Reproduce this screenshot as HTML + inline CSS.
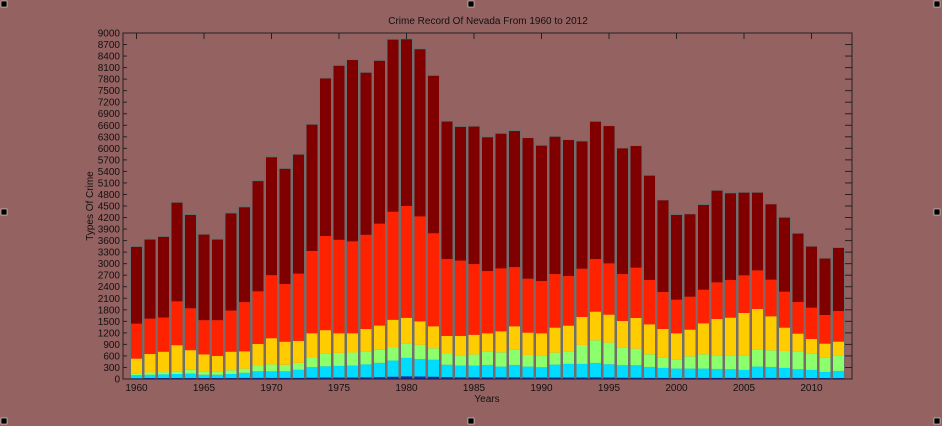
<!DOCTYPE html>
<html><head><meta charset="utf-8"><style>
html,body{margin:0;padding:0;background:#956262;}
svg{display:block;font-family:"Liberation Sans",sans-serif;}
</style></head><body>
<svg id="c" width="942" height="426" viewBox="0 0 942 426">
<rect x="0" y="0" width="942" height="426" fill="#956262"/>
<text x="488" y="24" font-size="10" text-anchor="middle" fill="#111">Crime Record Of Nevada From 1960 to 2012</text>
<text x="487" y="402" font-size="10" text-anchor="middle" fill="#111">Years</text>
<text transform="translate(93,206) rotate(-90)" font-size="10" text-anchor="middle" fill="#111">Types Of Crime</text>
<g id="bars"></g>
<g id="axes"></g>
</svg>
<script>
const years = [];for(let y=1960;y<=2012;y++)years.push(y);
const blueTop = [20,25,25,25,25,25,25,25,30,30,30,30,30,35,40,40,40,45,50,60,70,65,60,50,45,45,45,45,45,40,40,40,40,40,45,40,35,35,30,30,30,30,30,30,30,30,30,30,30,30,25,25,25];
const cyanTop = [100,110,120,130,140,110,110,130,160,200,200,200,240,310,330,340,350,380,420,480,550,520,500,370,350,350,366,323,366,323,305,375,392,392,418,383,357,357,314,288,271,271,271,262,253,236,323,314,288,253,236,184,210];
const greenTop = [140,170,180,200,240,200,200,230,270,350,380,370,420,560,670,680,690,720,760,820,920,890,800,650,620,640,712,695,764,626,600,686,704,886,1007,947,816,790,643,565,513,591,643,600,600,600,756,747,730,704,660,565,608];
const yellowTop = [530,650,710,880,750,640,600,710,720,910,1060,970,990,1190,1270,1190,1190,1300,1390,1540,1590,1500,1370,1120,1120,1150,1189,1241,1371,1206,1189,1336,1388,1613,1752,1674,1509,1587,1422,1301,1189,1284,1449,1561,1596,1717,1821,1631,1336,1180,1042,920,972];
const redTop = [1440,1570,1600,2020,1840,1530,1530,1780,2000,2280,2700,2470,2740,3330,3720,3620,3580,3750,4040,4350,4500,4230,3790,3120,3080,2990,2808,2877,2912,2609,2548,2730,2678,2869,3120,3007,2730,2895,2574,2262,2063,2141,2323,2514,2574,2695,2825,2583,2271,2002,1855,1665,1769];
const totalTop = [3450,3640,3710,4600,4280,3770,3640,4320,4480,5160,5780,5480,5850,6630,7830,8160,8310,7980,8290,8840,8850,8590,7900,6710,6570,6580,6300,6393,6463,6280,6082,6315,6229,6194,6705,6592,6012,6073,5302,4661,4280,4298,4540,4912,4843,4860,4860,4557,4211,3795,3458,3146,3423];
const yTicks = [];for(let v=0;v<=9000;v+=300)yTicks.push(v);
const xTicks = [1960,1965,1970,1975,1980,1985,1990,1995,2000,2005,2010];

const L=123,R=852,T=33,B=379,XMIN=1959,XMAX=2013,YMAX=9000;
const xs=v=>L+(v-XMIN)/(XMAX-XMIN)*(R-L);
const ys=v=>B-v/YMAX*(B-T);
const NS='http://www.w3.org/2000/svg';
function mk(tag,attrs,parent){const e=document.createElementNS(NS,tag);for(const k in attrs)e.setAttribute(k,attrs[k]);parent.appendChild(e);return e;}
const bars=document.getElementById('bars'),axes=document.getElementById('axes');
const layers=[[blueTop,'#0a2ad0','blue'],[cyanTop,'#00dcff','cyan'],[greenTop,'#8cff6c','green'],[yellowTop,'#ffcc00','yellow'],[redTop,'#ff2200','red'],[totalTop,'#800000','darkred']];
const bw=12;
years.forEach((yr,i)=>{
  let prev=0;
  layers.forEach(([arr,col,nm])=>{
    const v=arr[i];
    const r=mk('rect',{x:xs(yr)-bw/2,y:ys(v),width:bw,height:Math.max(0,ys(prev)-ys(v)),fill:col},bars);
    
    
    prev=v;
  });
  const o=mk('rect',{x:xs(yr)-bw/2,y:ys(totalTop[i]),width:bw,height:ys(0)-ys(totalTop[i]),fill:'none',stroke:'#6e6e6e','stroke-width':1},bars);
  
  
});
mk('rect',{x:L,y:T,width:R-L,height:B-T,fill:'none',stroke:'#222','stroke-width':1},axes);
yTicks.forEach(v=>{
  const t=mk('text',{x:L-3,y:ys(v)+3.5,'font-size':10,'text-anchor':'end',fill:'#111'},axes);
  t.textContent=v;
  
  
  mk('line',{x1:L,x2:L+4,y1:ys(v),y2:ys(v),stroke:'#222'},axes);
  mk('line',{x1:R-7,x2:R,y1:ys(v),y2:ys(v),stroke:'#222'},axes);
});
xTicks.forEach(v=>{
  const t=mk('text',{x:xs(v),y:B+12,'font-size':10,'text-anchor':'middle',fill:'#111'},axes);
  t.textContent=v;
  
  
  mk('line',{x1:xs(v),x2:xs(v),y1:T,y2:T+6,stroke:'#222'},axes);
});
[[4,4],[471,4],[937,4],[4,212],[937,212],[4,421],[471,421],[937,421]].forEach(([x,y])=>{
  const h=mk('rect',{x:x-3,y:y-3,width:6,height:6,fill:'#000',stroke:'#fff','stroke-width':0.5},axes);
  
  
});
</script>
</body></html>
